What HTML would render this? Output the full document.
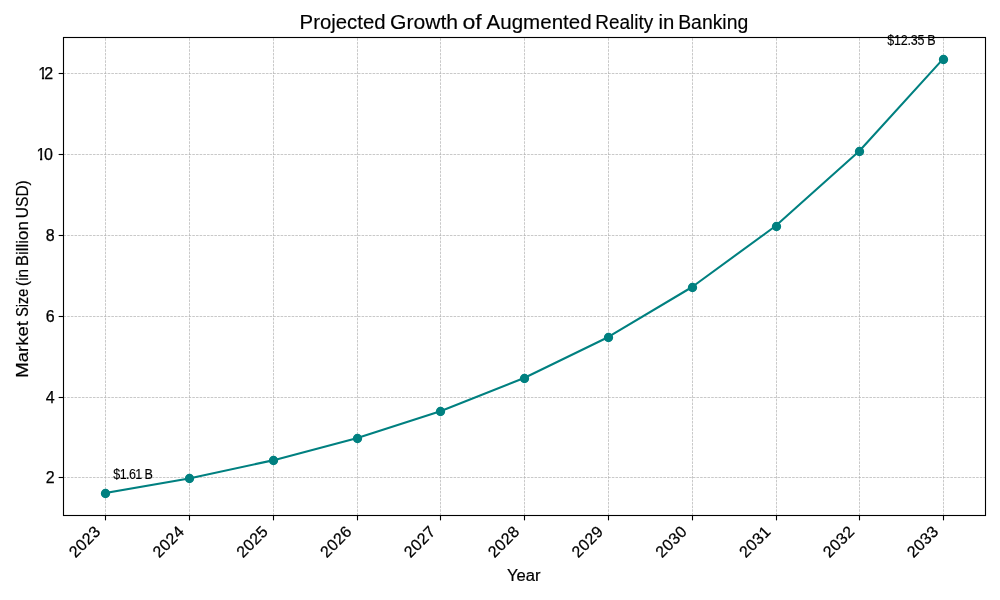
<!DOCTYPE html>
<html lang="en"><head><meta charset="utf-8"><title>Projected Growth of Augmented Reality in Banking</title>
<style>
html,body{margin:0;padding:0;background:#fff;}
body{width:1000px;height:600px;overflow:hidden;}
svg{display:block;will-change:transform;}
text{font-family:"Liberation Sans",sans-serif;fill:#000;}
.tick{font-size:16px;stroke:#000;stroke-width:0.25px;}
.xt{letter-spacing:0.3px;}
.xl{letter-spacing:0.75px;}
.lab{font-size:16.05px;stroke:#000;stroke-width:0.2px;}
.title{font-size:19.4px;stroke:#000;stroke-width:0.15px;}
.ann{font-size:13.9px;stroke:#000;stroke-width:0.12px;}
</style></head><body>
<svg width="1000" height="600" viewBox="0 0 1000 600">
<rect width="1000" height="600" fill="#fff"/>
<g stroke="#b0b0b0" stroke-width="0.69" stroke-dasharray="2.57 1.11" fill="none">
<line x1="105.50" y1="515.50" x2="105.50" y2="37.50"/>
<line x1="189.50" y1="515.50" x2="189.50" y2="37.50"/>
<line x1="273.50" y1="515.50" x2="273.50" y2="37.50"/>
<line x1="357.50" y1="515.50" x2="357.50" y2="37.50"/>
<line x1="440.50" y1="515.50" x2="440.50" y2="37.50"/>
<line x1="524.50" y1="515.50" x2="524.50" y2="37.50"/>
<line x1="608.50" y1="515.50" x2="608.50" y2="37.50"/>
<line x1="692.50" y1="515.50" x2="692.50" y2="37.50"/>
<line x1="776.50" y1="515.50" x2="776.50" y2="37.50"/>
<line x1="859.50" y1="515.50" x2="859.50" y2="37.50"/>
<line x1="943.50" y1="515.50" x2="943.50" y2="37.50"/>
<line x1="63.50" y1="477.50" x2="985.50" y2="477.50"/>
<line x1="63.50" y1="397.50" x2="985.50" y2="397.50"/>
<line x1="63.50" y1="316.50" x2="985.50" y2="316.50"/>
<line x1="63.50" y1="235.50" x2="985.50" y2="235.50"/>
<line x1="63.50" y1="154.50" x2="985.50" y2="154.50"/>
<line x1="63.50" y1="73.50" x2="985.50" y2="73.50"/>
</g>
<polyline points="105.15,493.14 188.95,478.43 272.75,460.39 356.55,438.28 440.35,411.18 524.15,377.95 607.95,337.21 691.75,287.26 775.55,226.02 859.35,150.95 943.15,58.91" fill="none" stroke="#008080" stroke-width="2.08" stroke-linejoin="round" stroke-linecap="square"/>
<g fill="#008080" stroke="#008080" stroke-width="1.39">
<circle cx="105.50" cy="493.50" r="3.97"/>
<circle cx="189.50" cy="478.50" r="3.97"/>
<circle cx="273.50" cy="460.50" r="3.97"/>
<circle cx="357.50" cy="438.50" r="3.97"/>
<circle cx="440.50" cy="411.50" r="3.97"/>
<circle cx="524.50" cy="378.50" r="3.97"/>
<circle cx="608.50" cy="337.50" r="3.97"/>
<circle cx="692.50" cy="287.50" r="3.97"/>
<circle cx="776.50" cy="226.50" r="3.97"/>
<circle cx="859.50" cy="151.50" r="3.97"/>
<circle cx="943.50" cy="59.50" r="3.97"/>
</g>
<rect x="63.5" y="37.5" width="922.00" height="478.00" fill="none" stroke="#000" stroke-width="1.11"/>
<g stroke="#000" stroke-width="1.11">
<line x1="105.50" y1="515.50" x2="105.50" y2="520.36"/>
<line x1="189.50" y1="515.50" x2="189.50" y2="520.36"/>
<line x1="273.50" y1="515.50" x2="273.50" y2="520.36"/>
<line x1="357.50" y1="515.50" x2="357.50" y2="520.36"/>
<line x1="440.50" y1="515.50" x2="440.50" y2="520.36"/>
<line x1="524.50" y1="515.50" x2="524.50" y2="520.36"/>
<line x1="608.50" y1="515.50" x2="608.50" y2="520.36"/>
<line x1="692.50" y1="515.50" x2="692.50" y2="520.36"/>
<line x1="776.50" y1="515.50" x2="776.50" y2="520.36"/>
<line x1="859.50" y1="515.50" x2="859.50" y2="520.36"/>
<line x1="943.50" y1="515.50" x2="943.50" y2="520.36"/>
<line x1="63.50" y1="477.50" x2="58.64" y2="477.50"/>
<line x1="63.50" y1="397.50" x2="58.64" y2="397.50"/>
<line x1="63.50" y1="316.50" x2="58.64" y2="316.50"/>
<line x1="63.50" y1="235.50" x2="58.64" y2="235.50"/>
<line x1="63.50" y1="154.50" x2="58.64" y2="154.50"/>
<line x1="63.50" y1="73.50" x2="58.64" y2="73.50"/>
</g>
<text class="tick" x="54.7" y="483" text-anchor="end">2</text>
<text class="tick" x="54.7" y="403" text-anchor="end">4</text>
<text class="tick" x="54.7" y="322" text-anchor="end">6</text>
<text class="tick" x="54.7" y="241" text-anchor="end">8</text>
<clipPath id="cp10"><rect x="30" y="144" width="30" height="13.95"/><rect x="40.00" y="157.8" width="2.3" height="3.2"/></clipPath>
<text class="tick" x="36.4" y="160" clip-path="url(#cp10)">1</text><text class="tick" x="43.9" y="160">0</text>
<clipPath id="cp12"><rect x="30" y="63" width="30" height="13.95"/><rect x="41.90" y="76.8" width="2.3" height="3.2"/></clipPath>
<text class="tick" x="38.3" y="79" clip-path="url(#cp12)">1</text><text class="tick" x="44.2" y="79">2</text>
<text class="tick xt" transform="translate(101.40,532.60) rotate(-45)" text-anchor="end" x="0" y="0">2023</text>
<text class="tick xt" transform="translate(185.20,532.60) rotate(-45)" text-anchor="end" x="0" y="0">2024</text>
<text class="tick xt" transform="translate(269.00,532.60) rotate(-45)" text-anchor="end" x="0" y="0">2025</text>
<text class="tick xt" transform="translate(352.80,532.60) rotate(-45)" text-anchor="end" x="0" y="0">2026</text>
<text class="tick xt" transform="translate(436.60,532.60) rotate(-45)" text-anchor="end" x="0" y="0">2027</text>
<text class="tick xt" transform="translate(520.40,532.60) rotate(-45)" text-anchor="end" x="0" y="0">2028</text>
<text class="tick xt" transform="translate(604.20,532.60) rotate(-45)" text-anchor="end" x="0" y="0">2029</text>
<text class="tick xt" transform="translate(688.00,532.60) rotate(-45)" text-anchor="end" x="0" y="0">2030</text>
<text class="tick xt" transform="translate(771.80,532.60) rotate(-45)" text-anchor="end" x="0" y="0">2031</text>
<text class="tick xt" transform="translate(855.60,532.60) rotate(-45)" text-anchor="end" x="0" y="0">2032</text>
<text class="tick xt" transform="translate(939.40,532.60) rotate(-45)" text-anchor="end" x="0" y="0">2033</text>
<text class="lab" x="506.9" y="581" textLength="33.6" lengthAdjust="spacingAndGlyphs">Year</text>
<text class="lab" transform="translate(28,377.70) rotate(-90)" textLength="56.60" lengthAdjust="spacingAndGlyphs">Market</text>
<text class="lab" transform="translate(28,316.80) rotate(-90)" textLength="28.00" lengthAdjust="spacingAndGlyphs">Size</text>
<text class="lab" transform="translate(28,285.90) rotate(-90)" textLength="17.00" lengthAdjust="spacingAndGlyphs">(in</text>
<text class="lab" transform="translate(28,266.20) rotate(-90)" textLength="45.00" lengthAdjust="spacingAndGlyphs">Billion</text>
<text class="lab" transform="translate(28,218.20) rotate(-90)" textLength="38.00" lengthAdjust="spacingAndGlyphs">USD)</text>
<g class="title">
<text x="299.60" y="29" textLength="86.00" lengthAdjust="spacingAndGlyphs">Projected</text>
<text x="390.00" y="29" textLength="68.00" lengthAdjust="spacingAndGlyphs">Growth</text>
<text x="462.50" y="29" textLength="19.30" lengthAdjust="spacingAndGlyphs">of</text>
<text x="486.60" y="29" textLength="105.00" lengthAdjust="spacingAndGlyphs">Augmented</text>
<text x="595.20" y="29" textLength="58.00" lengthAdjust="spacingAndGlyphs">Reality</text>
<text x="658.60" y="29" textLength="15.80" lengthAdjust="spacingAndGlyphs">in</text>
<text x="678.20" y="29" textLength="70.00" lengthAdjust="spacingAndGlyphs">Banking</text>
</g>
<text class="ann" transform="translate(113.3,479) scale(0.9,1)" textLength="44.00" lengthAdjust="spacing">$1.61 B</text>
<text class="ann" transform="translate(887.3,45) scale(0.9,1)" textLength="53.78" lengthAdjust="spacing">$12.35 B</text>
</svg></body></html>
